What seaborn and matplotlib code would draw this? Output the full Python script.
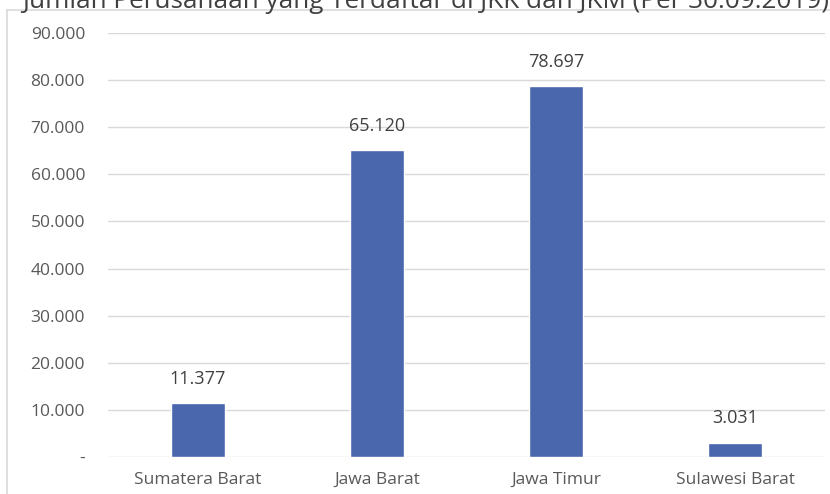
import matplotlib.pyplot as plt
import matplotlib.ticker as mticker
import pandas as pd
import seaborn as sns
from matplotlib.lines import Line2D

provinces = ['Sumatera Barat', 'Jawa Barat', 'Jawa Timur', 'Sulawesi Barat']
companies = [11377, 65120, 78697, 3031]
title = 'Jumlah Perusahaan yang Terdaftar di JKK dan JKM (Per 30.09.2019)'

BAR_COLOR = '#4a66ac'
GRID_COLOR = '#d9d9d9'
TEXT_COLOR = '#595959'


def dotThousands(v, pos=None):
    if v == 0:
        return '-'
    return '{:,.0f}'.format(v).replace(',', '.')


df = pd.DataFrame({'PROVINCE': provinces, 'COUNT': companies})

sns.set_theme(style='white')
plt.rcParams['font.family'] = ['Open Sans', 'DejaVu Sans']

fig = plt.figure(figsize=(8.3, 4.94), dpi=100)
ax = fig.add_axes([108 / 830, 1 - 457 / 494, 717 / 830, 424 / 494])

sns.barplot(data=df, x='PROVINCE', y='COUNT', color=BAR_COLOR, width=0.3,
            saturation=1, ax=ax, zorder=3)

ax.set_ylim(0, 90000)
ax.yaxis.set_major_locator(mticker.MultipleLocator(10000))
ax.yaxis.set_major_formatter(mticker.FuncFormatter(dotThousands))
ax.grid(True, axis='y', color=GRID_COLOR, linewidth=1, zorder=0)
ax.set_axisbelow(True)
for s in ax.spines.values():
    s.set_visible(False)
ax.tick_params(axis='both', length=0, labelsize=12.5, colors=TEXT_COLOR)
ax.tick_params(axis='y', pad=16.5)
ax.tick_params(axis='x', pad=11)
ax.set_xlabel(None)
ax.set_ylabel(None)

for i, v in enumerate(companies):
    ax.annotate(dotThousands(v), (i, v), xytext=(0, 11), textcoords='offset points',
                ha='center', va='bottom', fontsize=13, color='#404040')

# chart frame (cropped on the right and bottom)
fig.add_artist(Line2D([7 / 830, 7 / 830], [0, 1 - 10 / 494], color=GRID_COLOR,
                      linewidth=1.2, transform=fig.transFigure))
fig.add_artist(Line2D([7 / 830, 1], [1 - 10 / 494, 1 - 10 / 494], color=GRID_COLOR,
                      linewidth=1.2, transform=fig.transFigure))

fig.text(22 / 830, 1 - 8 / 494, title, ha='left', va='baseline', fontsize=18.8,
         color='#404040')

fig.savefig('out.png', dpi=100)
